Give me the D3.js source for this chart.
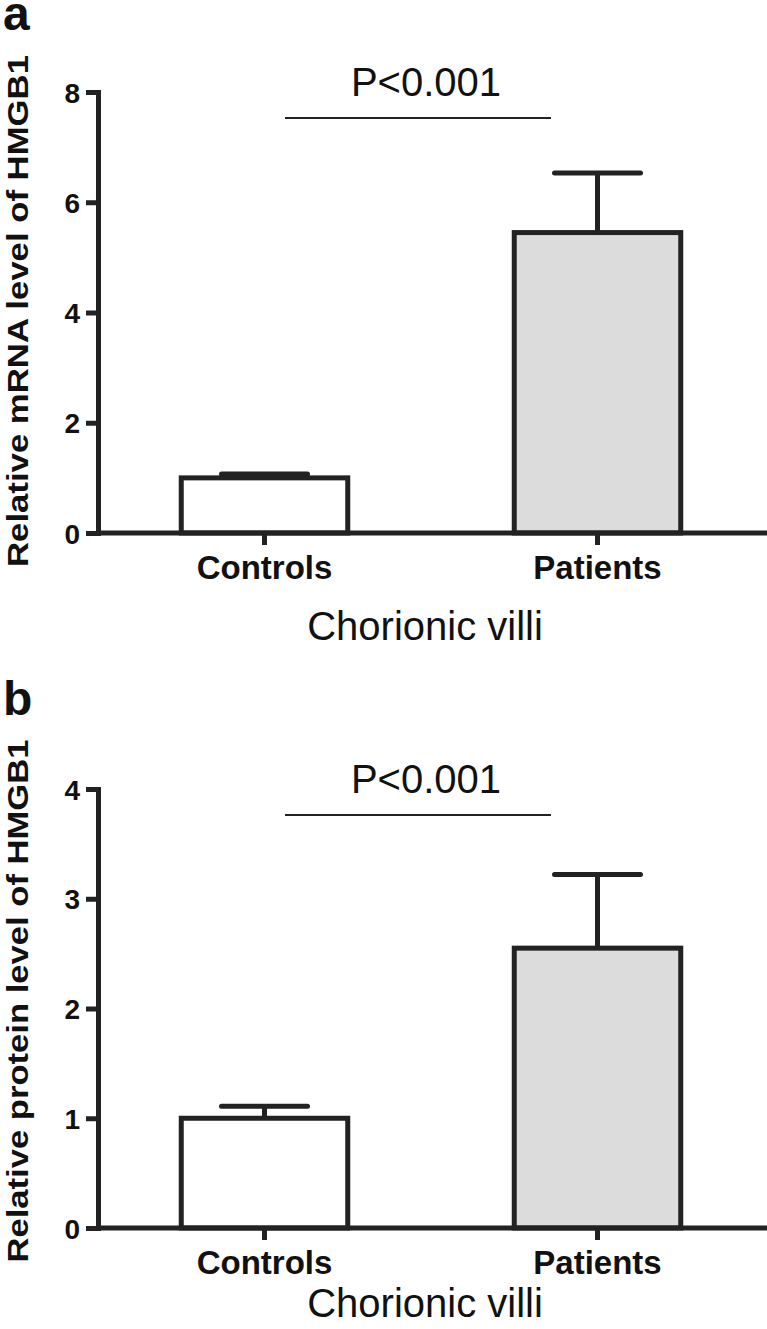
<!DOCTYPE html>
<html>
<head>
<meta charset="utf-8">
<script src="https://cdn.jsdelivr.net/npm/d3@7"></script>
<style>
  html, body { margin: 0; padding: 0; background: #fff; }
  svg { display: block; }
  text { font-family: Arial, "Liberation Sans", Helvetica, sans-serif; fill: #111; }
</style>
</head>
<body>
<script>
// ---- data ----
const categories = ["Controls", "Patients"];
const mrnaMean = [1.0, 5.45];
const mrnaErr = [0.07, 1.08];
const proteinMean = [1.0, 2.55];
const proteinErr = [0.11, 0.67];
const mrnaTicks = [0, 2, 4, 6, 8];
const proteinTicks = [0, 1, 2, 3, 4];
const panelLetters = ["a", "b"];
const yTitles = ["Relative mRNA level of HMGB1", "Relative protein level of HMGB1"];
const xTitle = "Chorionic villi";
const sigLabel = "P<0.001";

const W = 767, H = 1329;
const svg = d3.select("body").append("svg").attr("width", W).attr("height", H);
const ink = "#222";

const panels = [
  { letter: panelLetters[0], mean: mrnaMean, err: mrnaErr, ticks: mrnaTicks, title: yTitles[0],
    y0: 533, y1: 92, letterY: 30, titleCY: 311, titleLen: 512, xTitleY: 640 },
  { letter: panelLetters[1], mean: proteinMean, err: proteinErr, ticks: proteinTicks, title: yTitles[1],
    y0: 1228, y1: 789, letterY: 715, titleCY: 1001, titleLen: 523, xTitleY: 1317 }
];

const axisX = 98;
const x = d3.scaleBand().domain(categories).range([axisX, 764]).paddingInner(0.5).paddingOuter(0.25);
const fills = ["#ffffff", "#dcdcdc"];

panels.forEach(p => {
  const g = svg.append("g");
  const y = d3.scaleLinear().domain([0, d3.max(p.ticks)]).range([p.y0, p.y1]);

  // panel letter
  g.append("text").attr("x", 3).attr("y", p.letterY)
    .attr("font-size", 48).attr("font-weight", "bold").text(p.letter);

  // y title
  g.append("text")
    .attr("transform", `translate(28,${p.titleCY}) rotate(-90)`)
    .attr("text-anchor", "middle").attr("font-size", 30).attr("font-weight", "bold")
    .attr("textLength", p.titleLen).attr("lengthAdjust", "spacingAndGlyphs")
    .text(p.title);

  // bars
  const data = categories.map((c, i) => ({ c, v: p.mean[i], e: p.err[i], fill: fills[i] }));
  const bw = x.bandwidth();
  g.selectAll("rect.bar").data(data).enter().append("rect")
    .attr("class", "bar")
    .attr("x", d => x(d.c)).attr("width", bw)
    .attr("y", d => y(d.v)).attr("height", d => y(0) - y(d.v))
    .attr("fill", d => d.fill).attr("stroke", ink).attr("stroke-width", 5);

  // error bars (upper only)
  const eb = g.selectAll("g.eb").data(data).enter().append("g").attr("class", "eb");
  eb.append("line")
    .attr("x1", d => x(d.c) + bw / 2).attr("x2", d => x(d.c) + bw / 2)
    .attr("y1", d => y(d.v)).attr("y2", d => y(d.v + d.e))
    .attr("stroke", ink).attr("stroke-width", 5);
  eb.append("line")
    .attr("x1", d => x(d.c) + bw / 2 - 43).attr("x2", d => x(d.c) + bw / 2 + 43)
    .attr("y1", d => y(d.v + d.e)).attr("y2", d => y(d.v + d.e))
    .attr("stroke", ink).attr("stroke-width", 5).attr("stroke-linecap", "round");

  // y axis
  const ya = g.append("g").attr("transform", `translate(${axisX},0)`)
    .call(d3.axisLeft(y).tickValues(p.ticks).tickFormat(d3.format("d"))
      .tickSize(12).tickSizeOuter(0).tickPadding(6));
  ya.select(".domain").attr("stroke", ink).attr("stroke-width", 5).attr("stroke-linecap", "square");
  ya.selectAll(".tick line").attr("stroke", ink).attr("stroke-width", 5);
  ya.selectAll(".tick text").attr("font-size", 28).attr("font-weight", "bold")
    .attr("font-family", "Arial, 'Liberation Sans', sans-serif").attr("fill", "#111").attr("dy", "0.36em");

  // x axis
  const xa = g.append("g").attr("transform", `translate(0,${p.y0})`)
    .call(d3.axisBottom(x).tickSize(12).tickSizeOuter(0));
  xa.select(".domain").remove();
  xa.append("line").attr("x1", axisX).attr("x2", W).attr("y1", 0).attr("y2", 0)
    .attr("stroke", ink).attr("stroke-width", 5);
  xa.selectAll(".tick line").attr("stroke", ink).attr("stroke-width", 5);
  xa.selectAll(".tick text").attr("font-size", 33).attr("font-weight", "bold")
    .attr("font-family", "Arial, 'Liberation Sans', sans-serif").attr("fill", "#111")
    .attr("y", 46).attr("dy", null);

  // x title
  g.append("text").attr("x", 425).attr("y", p.xTitleY).attr("text-anchor", "middle")
    .attr("font-size", 40).text(xTitle);

  // significance
  g.append("line").attr("x1", 285).attr("x2", 551)
    .attr("y1", p.y1 + 26).attr("y2", p.y1 + 26)
    .attr("stroke", ink).attr("stroke-width", 2);
  g.append("text").attr("x", 426).attr("y", p.y1 + 4).attr("text-anchor", "middle")
    .attr("font-size", 40).text(sigLabel);
});
</script>
</body>
</html>
